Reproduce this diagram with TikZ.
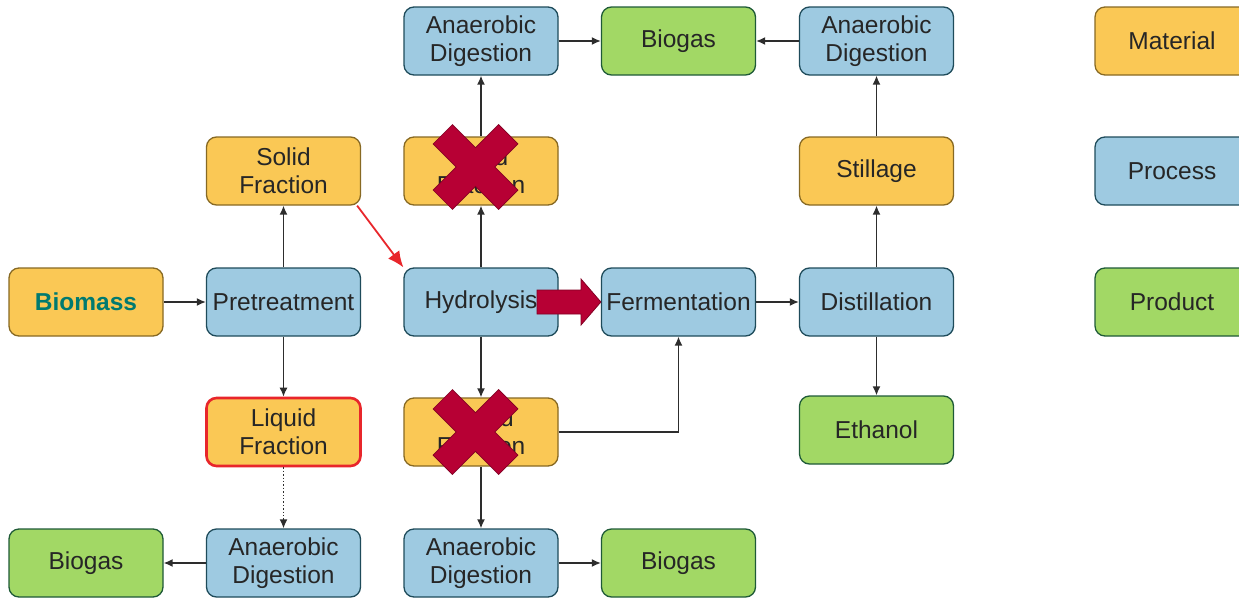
\documentclass[tikz,border=0pt]{standalone}
\usepackage{fontspec}
\setmainfont{Liberation Sans}
\usepackage{xcolor}
\usetikzlibrary{arrows.meta}
\definecolor{matfill}{RGB}{250,200,85}
\definecolor{matline}{RGB}{135,105,35}
\definecolor{profill}{RGB}{158,202,225}
\definecolor{proline}{RGB}{30,75,90}
\definecolor{prdfill}{RGB}{162,216,101}
\definecolor{prdline}{RGB}{30,90,55}
\definecolor{xred}{RGB}{183,0,52}
\definecolor{xdark}{RGB}{130,0,35}
\definecolor{linered}{RGB}{232,38,43}
\definecolor{biotext}{RGB}{0,122,112}
\definecolor{txt}{RGB}{38,38,38}
\definecolor{conn}{RGB}{45,45,45}

\begin{document}
\begin{tikzpicture}[x=1pt,y=-1pt]
		\tikzstyle{every node}+=[inner sep=0pt, text=txt, align=center,
			font=\fontsize{24.5}{28}\selectfont]
		\tikzstyle{box}=[draw, rounded corners=10pt, minimum width=154pt, minimum height=68pt, line width=1.3pt]
		\tikzstyle{material}=[box, fill=matfill, draw=matline]
		\tikzstyle{process}=[box, fill=profill, draw=proline]
		\tikzstyle{product}=[box, fill=prdfill, draw=prdline]
		\tikzstyle{link}=[draw=conn, line width=1.4pt, -{Latex[length=9pt,width=8pt]}]
		\clip (0,0) rectangle (1239,597);
		% column 1 and 2
		\node [material] (bio) at (86,302) {\textbf{\textcolor{biotext}{Biomass}}};
		\node [process] (pre) at (283.5,302) {Pretreatment};
		\node [material] (sf1) at (283.5,171) {Solid\\Fraction};
		\node [material, draw=linered, line width=2.6pt] (lf1) at (283.5,432) {Liquid\\Fraction};
		\node [process] (ad1) at (283.5,563) {Anaerobic\\Digestion};
		\node [product] (bg1) at (86,563) {Biogas};
		% column 3 and 4
		\node [process] (hyd) at (481,302) {Hydrolysis};
		\node [material] (sf2) at (481,171) {Solid\\Fraction};
		\node [process] (ad2) at (481,41) {Anaerobic\\Digestion};
		\node [product] (bg2) at (678.5,41) {Biogas};
		\node [material] (lf2) at (481,432) {Liquid\\Fraction};
		\node [process] (ad3) at (481,563) {Anaerobic\\Digestion};
		\node [product] (bg3) at (678.5,563) {Biogas};
		\node [process] (fer) at (678.5,302) {Fermentation};
		% column 5
		\node [process] (dis) at (876.5,302) {Distillation};
		\node [material] (sti) at (876.5,171) {Stillage};
		\node [process] (ad4) at (876.5,41) {Anaerobic\\Digestion};
		\node [product] (eth) at (876.5,430) {Ethanol};
		% legend
		\node [material] (legmat) at (1172,41) {Material};
		\node [process] (legpro) at (1172,171) {Process};
		\node [product] (legprd) at (1172,302) {Product};

		\draw [link] (bio) -- (pre);
		\draw [link] (pre) -- (sf1);
		\draw [link] (pre) -- (lf1);
		\draw [link, dotted] (lf1) -- (ad1);
		\draw [link] (ad1) -- (bg1);
		\draw [link, draw=linered, line width=1.8pt, -{Latex[length=16pt,width=14pt]}]
			([xshift=-4pt]sf1.south east) -- (hyd.north west);
		\draw [link] (hyd) -- (sf2);
		\draw [link] (sf2) -- (ad2);
		\draw [link] (ad2) -- (bg2);
		\draw [link] (hyd) -- (lf2);
		\draw [link] (lf2) -- (ad3);
		\draw [link] (ad3) -- (bg3);
		\draw [link] (lf2.east) -| (fer.south);
		\draw [link] (fer) -- (dis);
		\draw [link] (dis) -- (sti);
		\draw [link] (sti) -- (ad4);
		\draw [link] (ad4) -- (bg2);
		\draw [link] (dis) -- (eth);

		% block arrow hydrolysis -> fermentation
		\draw [xdark, fill=xred, line width=0.8pt] (537,290) -- (581,290) -- (581,279)
			-- (fer.west) -- (581,325) -- (581,314) -- (537,314) -- cycle;

		% crosses
		\foreach \cx/\cy in {475.5/167, 475.5/432} {
			\draw [xdark, line width=28pt] (\cx-33,\cy-33) -- (\cx+33,\cy+33);
			\draw [xdark, line width=28pt] (\cx+33,\cy-33) -- (\cx-33,\cy+33);
			\draw [xred, line width=26.4pt] (\cx-32.4,\cy-32.4) -- (\cx+32.4,\cy+32.4);
			\draw [xred, line width=26.4pt] (\cx+32.4,\cy-32.4) -- (\cx-32.4,\cy+32.4);
		}
\end{tikzpicture}
\end{document}
